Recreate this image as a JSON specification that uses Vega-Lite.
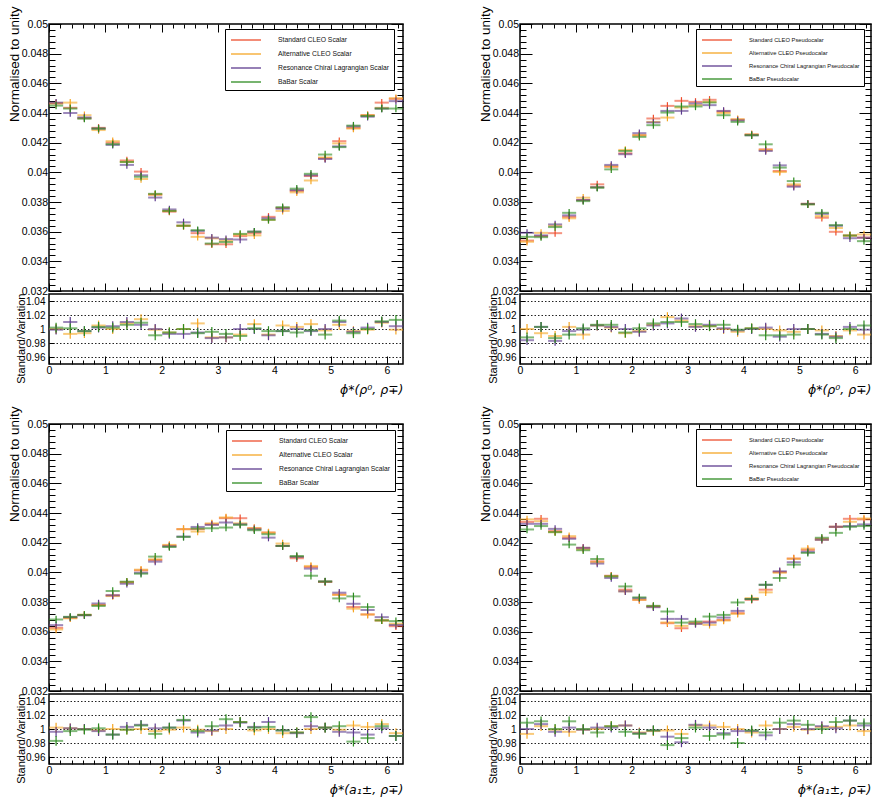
{
"$schema": "https://vega.github.io/schema/vega-lite/v6.json",
"padding": {"left": 6, "top": 5, "right": 0, "bottom": 0},
"background": "white",
"bounds": "flush",
"columns": 2,
"spacing": {"row": 3, "column": 117},
"resolve": {"scale": {"color": "independent"}},
"config": {
 "view": {"stroke": "#000", "strokeWidth": 1.5},
 "axis": {"domain": false, "grid": false, "labelFont": "Liberation Sans", "labelColor": "#000", "tickColor": "#000", "tickWidth": 1, "titleFont": "Liberation Sans", "titleFontWeight": "normal", "titleColor": "#000", "labelFlush": false, "labelOverlap": false},
 "legend": {"labelFont": "Liberation Sans", "labelColor": "#111"}
},
"datasets": {
"bins": [
{"b":0,"x0":0,"xc":0.1257,"x1":0.2513},{"b":1,"x0":0.2513,"xc":0.377,"x1":0.5027},{"b":2,"x0":0.5027,"xc":0.6283,"x1":0.754},{"b":3,"x0":0.754,"xc":0.8796,"x1":1.0053},{"b":4,"x0":1.0053,"xc":1.131,"x1":1.2566},{"b":5,"x0":1.2566,"xc":1.3823,"x1":1.508},{"b":6,"x0":1.508,"xc":1.6336,"x1":1.7593},{"b":7,"x0":1.7593,"xc":1.885,"x1":2.0106},{"b":8,"x0":2.0106,"xc":2.1363,"x1":2.2619},{"b":9,"x0":2.2619,"xc":2.3876,"x1":2.5133},{"b":10,"x0":2.5133,"xc":2.6389,"x1":2.7646},{"b":11,"x0":2.7646,"xc":2.8903,"x1":3.0159},{"b":12,"x0":3.0159,"xc":3.1416,"x1":3.2673},{"b":13,"x0":3.2673,"xc":3.3929,"x1":3.5186},{"b":14,"x0":3.5186,"xc":3.6442,"x1":3.7699},{"b":15,"x0":3.7699,"xc":3.8956,"x1":4.0212},{"b":16,"x0":4.0212,"xc":4.1469,"x1":4.2726},{"b":17,"x0":4.2726,"xc":4.3982,"x1":4.5239},{"b":18,"x0":4.5239,"xc":4.6496,"x1":4.7752},{"b":19,"x0":4.7752,"xc":4.9009,"x1":5.0265},{"b":20,"x0":5.0265,"xc":5.1522,"x1":5.2779},{"b":21,"x0":5.2779,"xc":5.4035,"x1":5.5292},{"b":22,"x0":5.5292,"xc":5.6549,"x1":5.7805},{"b":23,"x0":5.7805,"xc":5.9062,"x1":6.0319},{"b":24,"x0":6.0319,"xc":6.1575,"x1":6.2832}
],
"main": [
{"p":1,"s":"R","b":0,"y":0.04465,"e":0.00025},{"p":1,"s":"O","b":0,"y":0.04465,"e":0.00025},{"p":1,"s":"P","b":0,"y":0.0447,"e":0.00025},{"p":1,"s":"G","b":0,"y":0.0445,"e":0.00025},
{"p":1,"s":"R","b":1,"y":0.04435,"e":0.00025},{"p":1,"s":"O","b":1,"y":0.0447,"e":0.00025},{"p":1,"s":"P","b":1,"y":0.044,"e":0.00025},{"p":1,"s":"G","b":1,"y":0.0443,"e":0.00025},
{"p":1,"s":"R","b":2,"y":0.04365,"e":0.00025},{"p":1,"s":"O","b":2,"y":0.04385,"e":0.00025},{"p":1,"s":"P","b":2,"y":0.0437,"e":0.00025},{"p":1,"s":"G","b":2,"y":0.04362,"e":0.00025},
{"p":1,"s":"R","b":3,"y":0.043,"e":0.00025},{"p":1,"s":"O","b":3,"y":0.04285,"e":0.00025},{"p":1,"s":"P","b":3,"y":0.04295,"e":0.00025},{"p":1,"s":"G","b":3,"y":0.04295,"e":0.00025},
{"p":1,"s":"R","b":4,"y":0.042,"e":0.00025},{"p":1,"s":"O","b":4,"y":0.0421,"e":0.00025},{"p":1,"s":"P","b":4,"y":0.04185,"e":0.00025},{"p":1,"s":"G","b":4,"y":0.0419,"e":0.00025},
{"p":1,"s":"R","b":5,"y":0.0408,"e":0.00025},{"p":1,"s":"O","b":5,"y":0.0407,"e":0.00025},{"p":1,"s":"P","b":5,"y":0.0405,"e":0.00025},{"p":1,"s":"G","b":5,"y":0.0407,"e":0.00025},
{"p":1,"s":"R","b":6,"y":0.04005,"e":0.00025},{"p":1,"s":"O","b":6,"y":0.03955,"e":0.00025},{"p":1,"s":"P","b":6,"y":0.0398,"e":0.00025},{"p":1,"s":"G","b":6,"y":0.0397,"e":0.00025},
{"p":1,"s":"R","b":7,"y":0.0385,"e":0.00025},{"p":1,"s":"O","b":7,"y":0.0385,"e":0.00025},{"p":1,"s":"P","b":7,"y":0.0383,"e":0.00025},{"p":1,"s":"G","b":7,"y":0.03855,"e":0.00025},
{"p":1,"s":"R","b":8,"y":0.03735,"e":0.00025},{"p":1,"s":"O","b":8,"y":0.0374,"e":0.00025},{"p":1,"s":"P","b":8,"y":0.0375,"e":0.00025},{"p":1,"s":"G","b":8,"y":0.0374,"e":0.00025},
{"p":1,"s":"R","b":9,"y":0.0364,"e":0.00025},{"p":1,"s":"O","b":9,"y":0.0364,"e":0.00025},{"p":1,"s":"P","b":9,"y":0.03663,"e":0.00025},{"p":1,"s":"G","b":9,"y":0.0364,"e":0.00025},
{"p":1,"s":"R","b":10,"y":0.0359,"e":0.00025},{"p":1,"s":"O","b":10,"y":0.03565,"e":0.00025},{"p":1,"s":"P","b":10,"y":0.03605,"e":0.00025},{"p":1,"s":"G","b":10,"y":0.0361,"e":0.00025},
{"p":1,"s":"R","b":11,"y":0.03515,"e":0.00025},{"p":1,"s":"O","b":11,"y":0.03555,"e":0.00025},{"p":1,"s":"P","b":11,"y":0.0356,"e":0.00025},{"p":1,"s":"G","b":11,"y":0.0352,"e":0.00025},
{"p":1,"s":"R","b":12,"y":0.03515,"e":0.00025},{"p":1,"s":"O","b":12,"y":0.0354,"e":0.00025},{"p":1,"s":"P","b":12,"y":0.0355,"e":0.00025},{"p":1,"s":"G","b":12,"y":0.0353,"e":0.00025},
{"p":1,"s":"R","b":13,"y":0.0357,"e":0.00025},{"p":1,"s":"O","b":13,"y":0.0358,"e":0.00025},{"p":1,"s":"P","b":13,"y":0.03547,"e":0.00025},{"p":1,"s":"G","b":13,"y":0.03585,"e":0.00025},
{"p":1,"s":"R","b":14,"y":0.0359,"e":0.00025},{"p":1,"s":"O","b":14,"y":0.03575,"e":0.00025},{"p":1,"s":"P","b":14,"y":0.036,"e":0.00025},{"p":1,"s":"G","b":14,"y":0.036,"e":0.00025},
{"p":1,"s":"R","b":15,"y":0.037,"e":0.00025},{"p":1,"s":"O","b":15,"y":0.0368,"e":0.00025},{"p":1,"s":"P","b":15,"y":0.0369,"e":0.00025},{"p":1,"s":"G","b":15,"y":0.0368,"e":0.00025},
{"p":1,"s":"R","b":16,"y":0.0376,"e":0.00025},{"p":1,"s":"O","b":16,"y":0.0374,"e":0.00025},{"p":1,"s":"P","b":16,"y":0.03755,"e":0.00025},{"p":1,"s":"G","b":16,"y":0.03765,"e":0.00025},
{"p":1,"s":"R","b":17,"y":0.03875,"e":0.00025},{"p":1,"s":"O","b":17,"y":0.03865,"e":0.00025},{"p":1,"s":"P","b":17,"y":0.0388,"e":0.00025},{"p":1,"s":"G","b":17,"y":0.0389,"e":0.00025},
{"p":1,"s":"R","b":18,"y":0.03975,"e":0.00025},{"p":1,"s":"O","b":18,"y":0.03945,"e":0.00025},{"p":1,"s":"P","b":18,"y":0.0398,"e":0.00025},{"p":1,"s":"G","b":18,"y":0.0399,"e":0.00025},
{"p":1,"s":"R","b":19,"y":0.04095,"e":0.00025},{"p":1,"s":"O","b":19,"y":0.041,"e":0.00025},{"p":1,"s":"P","b":19,"y":0.0409,"e":0.00025},{"p":1,"s":"G","b":19,"y":0.0412,"e":0.00025},
{"p":1,"s":"R","b":20,"y":0.0421,"e":0.00025},{"p":1,"s":"O","b":20,"y":0.04195,"e":0.00025},{"p":1,"s":"P","b":20,"y":0.04175,"e":0.00025},{"p":1,"s":"G","b":20,"y":0.0417,"e":0.00025},
{"p":1,"s":"R","b":21,"y":0.043,"e":0.00025},{"p":1,"s":"O","b":21,"y":0.04295,"e":0.00025},{"p":1,"s":"P","b":21,"y":0.0431,"e":0.00025},{"p":1,"s":"G","b":21,"y":0.04315,"e":0.00025},
{"p":1,"s":"R","b":22,"y":0.04385,"e":0.00025},{"p":1,"s":"O","b":22,"y":0.04385,"e":0.00025},{"p":1,"s":"P","b":22,"y":0.04375,"e":0.00025},{"p":1,"s":"G","b":22,"y":0.0438,"e":0.00025},
{"p":1,"s":"R","b":23,"y":0.0447,"e":0.00025},{"p":1,"s":"O","b":23,"y":0.04435,"e":0.00025},{"p":1,"s":"P","b":23,"y":0.0443,"e":0.00025},{"p":1,"s":"G","b":23,"y":0.0443,"e":0.00025},
{"p":1,"s":"R","b":24,"y":0.04495,"e":0.00025},{"p":1,"s":"O","b":24,"y":0.045,"e":0.00025},{"p":1,"s":"P","b":24,"y":0.0448,"e":0.00025},{"p":1,"s":"G","b":24,"y":0.0443,"e":0.00025},

{"p":2,"s":"R","b":0,"y":0.0354,"e":0.00025},{"p":2,"s":"O","b":0,"y":0.03532,"e":0.00025},{"p":2,"s":"P","b":0,"y":0.03592,"e":0.00025},{"p":2,"s":"G","b":0,"y":0.03565,"e":0.00025},
{"p":2,"s":"R","b":1,"y":0.0357,"e":0.00025},{"p":2,"s":"O","b":1,"y":0.03592,"e":0.00025},{"p":2,"s":"P","b":1,"y":0.03575,"e":0.00025},{"p":2,"s":"G","b":1,"y":0.03563,"e":0.00025},
{"p":2,"s":"R","b":2,"y":0.0359,"e":0.00025},{"p":2,"s":"O","b":2,"y":0.0364,"e":0.00025},{"p":2,"s":"P","b":2,"y":0.03649,"e":0.00025},{"p":2,"s":"G","b":2,"y":0.03631,"e":0.00025},
{"p":2,"s":"R","b":3,"y":0.037,"e":0.00025},{"p":2,"s":"O","b":3,"y":0.0369,"e":0.00025},{"p":2,"s":"P","b":3,"y":0.0371,"e":0.00025},{"p":2,"s":"G","b":3,"y":0.03727,"e":0.00025},
{"p":2,"s":"R","b":4,"y":0.03813,"e":0.00025},{"p":2,"s":"O","b":4,"y":0.03829,"e":0.00025},{"p":2,"s":"P","b":4,"y":0.03813,"e":0.00025},{"p":2,"s":"G","b":4,"y":0.03806,"e":0.00025},
{"p":2,"s":"R","b":5,"y":0.03919,"e":0.00025},{"p":2,"s":"O","b":5,"y":0.039,"e":0.00025},{"p":2,"s":"P","b":5,"y":0.039,"e":0.00025},{"p":2,"s":"G","b":5,"y":0.03896,"e":0.00025},
{"p":2,"s":"R","b":6,"y":0.04038,"e":0.00025},{"p":2,"s":"O","b":6,"y":0.0404,"e":0.00025},{"p":2,"s":"P","b":6,"y":0.0405,"e":0.00025},{"p":2,"s":"G","b":6,"y":0.0402,"e":0.00025},
{"p":2,"s":"R","b":7,"y":0.04128,"e":0.00025},{"p":2,"s":"O","b":7,"y":0.04151,"e":0.00025},{"p":2,"s":"P","b":7,"y":0.04122,"e":0.00025},{"p":2,"s":"G","b":7,"y":0.04144,"e":0.00025},
{"p":2,"s":"R","b":8,"y":0.0425,"e":0.00025},{"p":2,"s":"O","b":8,"y":0.0425,"e":0.00025},{"p":2,"s":"P","b":8,"y":0.04264,"e":0.00025},{"p":2,"s":"G","b":8,"y":0.04239,"e":0.00025},
{"p":2,"s":"R","b":9,"y":0.04363,"e":0.00025},{"p":2,"s":"O","b":9,"y":0.0434,"e":0.00025},{"p":2,"s":"P","b":9,"y":0.04336,"e":0.00025},{"p":2,"s":"G","b":9,"y":0.04318,"e":0.00025},
{"p":2,"s":"R","b":10,"y":0.04448,"e":0.00025},{"p":2,"s":"O","b":10,"y":0.04369,"e":0.00025},{"p":2,"s":"P","b":10,"y":0.04414,"e":0.00025},{"p":2,"s":"G","b":10,"y":0.04403,"e":0.00025},
{"p":2,"s":"R","b":11,"y":0.04482,"e":0.00025},{"p":2,"s":"O","b":11,"y":0.04437,"e":0.00025},{"p":2,"s":"P","b":11,"y":0.04414,"e":0.00025},{"p":2,"s":"G","b":11,"y":0.04444,"e":0.00025},
{"p":2,"s":"R","b":12,"y":0.04475,"e":0.00025},{"p":2,"s":"O","b":12,"y":0.04453,"e":0.00025},{"p":2,"s":"P","b":12,"y":0.04464,"e":0.00025},{"p":2,"s":"G","b":12,"y":0.04444,"e":0.00025},
{"p":2,"s":"R","b":13,"y":0.04489,"e":0.00025},{"p":2,"s":"O","b":13,"y":0.04475,"e":0.00025},{"p":2,"s":"P","b":13,"y":0.04453,"e":0.00025},{"p":2,"s":"G","b":13,"y":0.04471,"e":0.00025},
{"p":2,"s":"R","b":14,"y":0.0441,"e":0.00025},{"p":2,"s":"O","b":14,"y":0.044,"e":0.00025},{"p":2,"s":"P","b":14,"y":0.04414,"e":0.00025},{"p":2,"s":"G","b":14,"y":0.04385,"e":0.00025},
{"p":2,"s":"R","b":15,"y":0.04355,"e":0.00025},{"p":2,"s":"O","b":15,"y":0.04358,"e":0.00025},{"p":2,"s":"P","b":15,"y":0.0435,"e":0.00025},{"p":2,"s":"G","b":15,"y":0.0434,"e":0.00025},
{"p":2,"s":"R","b":16,"y":0.04255,"e":0.00025},{"p":2,"s":"O","b":16,"y":0.04255,"e":0.00025},{"p":2,"s":"P","b":16,"y":0.0425,"e":0.00025},{"p":2,"s":"G","b":16,"y":0.0425,"e":0.00025},
{"p":2,"s":"R","b":17,"y":0.04155,"e":0.00025},{"p":2,"s":"O","b":17,"y":0.0415,"e":0.00025},{"p":2,"s":"P","b":17,"y":0.04144,"e":0.00025},{"p":2,"s":"G","b":17,"y":0.04189,"e":0.00025},
{"p":2,"s":"R","b":18,"y":0.04009,"e":0.00025},{"p":2,"s":"O","b":18,"y":0.04002,"e":0.00025},{"p":2,"s":"P","b":18,"y":0.04047,"e":0.00025},{"p":2,"s":"G","b":18,"y":0.04032,"e":0.00025},
{"p":2,"s":"R","b":19,"y":0.0391,"e":0.00025},{"p":2,"s":"O","b":19,"y":0.03919,"e":0.00025},{"p":2,"s":"P","b":19,"y":0.03903,"e":0.00025},{"p":2,"s":"G","b":19,"y":0.03941,"e":0.00025},
{"p":2,"s":"R","b":20,"y":0.03788,"e":0.00025},{"p":2,"s":"O","b":20,"y":0.03785,"e":0.00025},{"p":2,"s":"P","b":20,"y":0.03787,"e":0.00025},{"p":2,"s":"G","b":20,"y":0.03784,"e":0.00025},
{"p":2,"s":"R","b":21,"y":0.03694,"e":0.00025},{"p":2,"s":"O","b":21,"y":0.03705,"e":0.00025},{"p":2,"s":"P","b":21,"y":0.0372,"e":0.00025},{"p":2,"s":"G","b":21,"y":0.03727,"e":0.00025},
{"p":2,"s":"R","b":22,"y":0.03599,"e":0.00025},{"p":2,"s":"O","b":22,"y":0.03625,"e":0.00025},{"p":2,"s":"P","b":22,"y":0.0364,"e":0.00025},{"p":2,"s":"G","b":22,"y":0.03644,"e":0.00025},
{"p":2,"s":"R","b":23,"y":0.03574,"e":0.00025},{"p":2,"s":"O","b":23,"y":0.03574,"e":0.00025},{"p":2,"s":"P","b":23,"y":0.03556,"e":0.00025},{"p":2,"s":"G","b":23,"y":0.03574,"e":0.00025},
{"p":2,"s":"R","b":24,"y":0.0356,"e":0.00025},{"p":2,"s":"O","b":24,"y":0.03581,"e":0.00025},{"p":2,"s":"P","b":24,"y":0.03559,"e":0.00025},{"p":2,"s":"G","b":24,"y":0.03536,"e":0.00025},

{"p":3,"s":"R","b":0,"y":0.03626,"e":0.00025},{"p":3,"s":"O","b":0,"y":0.03615,"e":0.00025},{"p":3,"s":"P","b":0,"y":0.03644,"e":0.00025},{"p":3,"s":"G","b":0,"y":0.03682,"e":0.00025},
{"p":3,"s":"R","b":1,"y":0.03694,"e":0.00025},{"p":3,"s":"O","b":1,"y":0.0369,"e":0.00025},{"p":3,"s":"P","b":1,"y":0.03698,"e":0.00025},{"p":3,"s":"G","b":1,"y":0.037,"e":0.00025},
{"p":3,"s":"R","b":2,"y":0.03712,"e":0.00025},{"p":3,"s":"O","b":2,"y":0.03714,"e":0.00025},{"p":3,"s":"P","b":2,"y":0.0371,"e":0.00025},{"p":3,"s":"G","b":2,"y":0.03713,"e":0.00025},
{"p":3,"s":"R","b":3,"y":0.0378,"e":0.00025},{"p":3,"s":"O","b":3,"y":0.0378,"e":0.00025},{"p":3,"s":"P","b":3,"y":0.0379,"e":0.00025},{"p":3,"s":"G","b":3,"y":0.03773,"e":0.00025},
{"p":3,"s":"R","b":4,"y":0.03845,"e":0.00025},{"p":3,"s":"O","b":4,"y":0.0384,"e":0.00025},{"p":3,"s":"P","b":4,"y":0.03845,"e":0.00025},{"p":3,"s":"G","b":4,"y":0.03874,"e":0.00025},
{"p":3,"s":"R","b":5,"y":0.03933,"e":0.00025},{"p":3,"s":"O","b":5,"y":0.03933,"e":0.00025},{"p":3,"s":"P","b":5,"y":0.03923,"e":0.00025},{"p":3,"s":"G","b":5,"y":0.03937,"e":0.00025},
{"p":3,"s":"R","b":6,"y":0.04013,"e":0.00025},{"p":3,"s":"O","b":6,"y":0.04018,"e":0.00025},{"p":3,"s":"P","b":6,"y":0.03997,"e":0.00025},{"p":3,"s":"G","b":6,"y":0.03991,"e":0.00025},
{"p":3,"s":"R","b":7,"y":0.04083,"e":0.00025},{"p":3,"s":"O","b":7,"y":0.04088,"e":0.00025},{"p":3,"s":"P","b":7,"y":0.04072,"e":0.00025},{"p":3,"s":"G","b":7,"y":0.04106,"e":0.00025},
{"p":3,"s":"R","b":8,"y":0.0418,"e":0.00025},{"p":3,"s":"O","b":8,"y":0.04185,"e":0.00025},{"p":3,"s":"P","b":8,"y":0.04175,"e":0.00025},{"p":3,"s":"G","b":8,"y":0.04171,"e":0.00025},
{"p":3,"s":"R","b":9,"y":0.04291,"e":0.00025},{"p":3,"s":"O","b":9,"y":0.04291,"e":0.00025},{"p":3,"s":"P","b":9,"y":0.04241,"e":0.00025},{"p":3,"s":"G","b":9,"y":0.04239,"e":0.00025},
{"p":3,"s":"R","b":10,"y":0.04291,"e":0.00025},{"p":3,"s":"O","b":10,"y":0.04275,"e":0.00025},{"p":3,"s":"P","b":10,"y":0.04306,"e":0.00025},{"p":3,"s":"G","b":10,"y":0.04295,"e":0.00025},
{"p":3,"s":"R","b":11,"y":0.04324,"e":0.00025},{"p":3,"s":"O","b":11,"y":0.0433,"e":0.00025},{"p":3,"s":"P","b":11,"y":0.0432,"e":0.00025},{"p":3,"s":"G","b":11,"y":0.04297,"e":0.00025},
{"p":3,"s":"R","b":12,"y":0.04365,"e":0.00025},{"p":3,"s":"O","b":12,"y":0.0437,"e":0.00025},{"p":3,"s":"P","b":12,"y":0.04336,"e":0.00025},{"p":3,"s":"G","b":12,"y":0.04302,"e":0.00025},
{"p":3,"s":"R","b":13,"y":0.04365,"e":0.00025},{"p":3,"s":"O","b":13,"y":0.0433,"e":0.00025},{"p":3,"s":"P","b":13,"y":0.04324,"e":0.00025},{"p":3,"s":"G","b":13,"y":0.0432,"e":0.00025},
{"p":3,"s":"R","b":14,"y":0.04297,"e":0.00025},{"p":3,"s":"O","b":14,"y":0.04297,"e":0.00025},{"p":3,"s":"P","b":14,"y":0.0429,"e":0.00025},{"p":3,"s":"G","b":14,"y":0.04284,"e":0.00025},
{"p":3,"s":"R","b":15,"y":0.04268,"e":0.00025},{"p":3,"s":"O","b":15,"y":0.04268,"e":0.00025},{"p":3,"s":"P","b":15,"y":0.04234,"e":0.00025},{"p":3,"s":"G","b":15,"y":0.04257,"e":0.00025},
{"p":3,"s":"R","b":16,"y":0.04178,"e":0.00025},{"p":3,"s":"O","b":16,"y":0.04194,"e":0.00025},{"p":3,"s":"P","b":16,"y":0.04178,"e":0.00025},{"p":3,"s":"G","b":16,"y":0.04178,"e":0.00025},
{"p":3,"s":"R","b":17,"y":0.04095,"e":0.00025},{"p":3,"s":"O","b":17,"y":0.04104,"e":0.00025},{"p":3,"s":"P","b":17,"y":0.04104,"e":0.00025},{"p":3,"s":"G","b":17,"y":0.0411,"e":0.00025},
{"p":3,"s":"R","b":18,"y":0.04036,"e":0.00025},{"p":3,"s":"O","b":18,"y":0.04043,"e":0.00025},{"p":3,"s":"P","b":18,"y":0.04025,"e":0.00025},{"p":3,"s":"G","b":18,"y":0.03977,"e":0.00025},
{"p":3,"s":"R","b":19,"y":0.03937,"e":0.00025},{"p":3,"s":"O","b":19,"y":0.03935,"e":0.00025},{"p":3,"s":"P","b":19,"y":0.03937,"e":0.00025},{"p":3,"s":"G","b":19,"y":0.03939,"e":0.00025},
{"p":3,"s":"R","b":20,"y":0.03851,"e":0.00025},{"p":3,"s":"O","b":20,"y":0.03847,"e":0.00025},{"p":3,"s":"P","b":20,"y":0.03863,"e":0.00025},{"p":3,"s":"G","b":20,"y":0.03824,"e":0.00025},
{"p":3,"s":"R","b":21,"y":0.03766,"e":0.00025},{"p":3,"s":"O","b":21,"y":0.03755,"e":0.00025},{"p":3,"s":"P","b":21,"y":0.03788,"e":0.00025},{"p":3,"s":"G","b":21,"y":0.03838,"e":0.00025},
{"p":3,"s":"R","b":22,"y":0.03716,"e":0.00025},{"p":3,"s":"O","b":22,"y":0.03716,"e":0.00025},{"p":3,"s":"P","b":22,"y":0.03746,"e":0.00025},{"p":3,"s":"G","b":22,"y":0.03766,"e":0.00025},
{"p":3,"s":"R","b":23,"y":0.03676,"e":0.00025},{"p":3,"s":"O","b":23,"y":0.03676,"e":0.00025},{"p":3,"s":"P","b":23,"y":0.03698,"e":0.00025},{"p":3,"s":"G","b":23,"y":0.03676,"e":0.00025},
{"p":3,"s":"R","b":24,"y":0.03637,"e":0.00025},{"p":3,"s":"O","b":24,"y":0.03653,"e":0.00025},{"p":3,"s":"P","b":24,"y":0.03645,"e":0.00025},{"p":3,"s":"G","b":24,"y":0.03671,"e":0.00025},

{"p":4,"s":"R","b":0,"y":0.0434,"e":0.00025},{"p":4,"s":"O","b":0,"y":0.04357,"e":0.00025},{"p":4,"s":"P","b":0,"y":0.04327,"e":0.00025},{"p":4,"s":"G","b":0,"y":0.04289,"e":0.00025},
{"p":4,"s":"R","b":1,"y":0.04361,"e":0.00025},{"p":4,"s":"O","b":1,"y":0.04345,"e":0.00025},{"p":4,"s":"P","b":1,"y":0.04327,"e":0.00025},{"p":4,"s":"G","b":1,"y":0.04312,"e":0.00025},
{"p":4,"s":"R","b":2,"y":0.04278,"e":0.00025},{"p":4,"s":"O","b":2,"y":0.04271,"e":0.00025},{"p":4,"s":"P","b":2,"y":0.04293,"e":0.00025},{"p":4,"s":"G","b":2,"y":0.04271,"e":0.00025},
{"p":4,"s":"R","b":3,"y":0.04233,"e":0.00025},{"p":4,"s":"O","b":3,"y":0.04244,"e":0.00025},{"p":4,"s":"P","b":3,"y":0.04226,"e":0.00025},{"p":4,"s":"G","b":3,"y":0.04187,"e":0.00025},
{"p":4,"s":"R","b":4,"y":0.04165,"e":0.00025},{"p":4,"s":"O","b":4,"y":0.04155,"e":0.00025},{"p":4,"s":"P","b":4,"y":0.04165,"e":0.00025},{"p":4,"s":"G","b":4,"y":0.04149,"e":0.00025},
{"p":4,"s":"R","b":5,"y":0.04074,"e":0.00025},{"p":4,"s":"O","b":5,"y":0.04068,"e":0.00025},{"p":4,"s":"P","b":5,"y":0.04059,"e":0.00025},{"p":4,"s":"G","b":5,"y":0.0409,"e":0.00025},
{"p":4,"s":"R","b":6,"y":0.03977,"e":0.00025},{"p":4,"s":"O","b":6,"y":0.03973,"e":0.00025},{"p":4,"s":"P","b":6,"y":0.03962,"e":0.00025},{"p":4,"s":"G","b":6,"y":0.03973,"e":0.00025},
{"p":4,"s":"R","b":7,"y":0.03883,"e":0.00025},{"p":4,"s":"O","b":7,"y":0.03872,"e":0.00025},{"p":4,"s":"P","b":7,"y":0.03872,"e":0.00025},{"p":4,"s":"G","b":7,"y":0.03905,"e":0.00025},
{"p":4,"s":"R","b":8,"y":0.03815,"e":0.00025},{"p":4,"s":"O","b":8,"y":0.03815,"e":0.00025},{"p":4,"s":"P","b":8,"y":0.03826,"e":0.00025},{"p":4,"s":"G","b":8,"y":0.03831,"e":0.00025},
{"p":4,"s":"R","b":9,"y":0.0377,"e":0.00025},{"p":4,"s":"O","b":9,"y":0.0377,"e":0.00025},{"p":4,"s":"P","b":9,"y":0.03765,"e":0.00025},{"p":4,"s":"G","b":9,"y":0.03774,"e":0.00025},
{"p":4,"s":"R","b":10,"y":0.03657,"e":0.00025},{"p":4,"s":"O","b":10,"y":0.03662,"e":0.00025},{"p":4,"s":"P","b":10,"y":0.03686,"e":0.00025},{"p":4,"s":"G","b":10,"y":0.03736,"e":0.00025},
{"p":4,"s":"R","b":11,"y":0.03623,"e":0.00025},{"p":4,"s":"O","b":11,"y":0.03639,"e":0.00025},{"p":4,"s":"P","b":11,"y":0.03686,"e":0.00025},{"p":4,"s":"G","b":11,"y":0.03661,"e":0.00025},
{"p":4,"s":"R","b":12,"y":0.0366,"e":0.00025},{"p":4,"s":"O","b":12,"y":0.03655,"e":0.00025},{"p":4,"s":"P","b":12,"y":0.03652,"e":0.00025},{"p":4,"s":"G","b":12,"y":0.03668,"e":0.00025},
{"p":4,"s":"R","b":13,"y":0.03668,"e":0.00025},{"p":4,"s":"O","b":13,"y":0.03646,"e":0.00025},{"p":4,"s":"P","b":13,"y":0.03661,"e":0.00025},{"p":4,"s":"G","b":13,"y":0.03702,"e":0.00025},
{"p":4,"s":"R","b":14,"y":0.03679,"e":0.00025},{"p":4,"s":"O","b":14,"y":0.03675,"e":0.00025},{"p":4,"s":"P","b":14,"y":0.03695,"e":0.00025},{"p":4,"s":"G","b":14,"y":0.03713,"e":0.00025},
{"p":4,"s":"R","b":15,"y":0.03725,"e":0.00025},{"p":4,"s":"O","b":15,"y":0.0372,"e":0.00025},{"p":4,"s":"P","b":15,"y":0.0374,"e":0.00025},{"p":4,"s":"G","b":15,"y":0.03797,"e":0.00025},
{"p":4,"s":"R","b":16,"y":0.03815,"e":0.00025},{"p":4,"s":"O","b":16,"y":0.03826,"e":0.00025},{"p":4,"s":"P","b":16,"y":0.0382,"e":0.00025},{"p":4,"s":"G","b":16,"y":0.0382,"e":0.00025},
{"p":4,"s":"R","b":17,"y":0.03883,"e":0.00025},{"p":4,"s":"O","b":17,"y":0.03865,"e":0.00025},{"p":4,"s":"P","b":17,"y":0.03916,"e":0.00025},{"p":4,"s":"G","b":17,"y":0.03916,"e":0.00025},
{"p":4,"s":"R","b":18,"y":0.04002,"e":0.00025},{"p":4,"s":"O","b":18,"y":0.03997,"e":0.00025},{"p":4,"s":"P","b":18,"y":0.04007,"e":0.00025},{"p":4,"s":"G","b":18,"y":0.03962,"e":0.00025},
{"p":4,"s":"R","b":19,"y":0.04093,"e":0.00025},{"p":4,"s":"O","b":19,"y":0.04091,"e":0.00025},{"p":4,"s":"P","b":19,"y":0.04068,"e":0.00025},{"p":4,"s":"G","b":19,"y":0.04052,"e":0.00025},
{"p":4,"s":"R","b":20,"y":0.04151,"e":0.00025},{"p":4,"s":"O","b":20,"y":0.0416,"e":0.00025},{"p":4,"s":"P","b":20,"y":0.04138,"e":0.00025},{"p":4,"s":"G","b":20,"y":0.04131,"e":0.00025},
{"p":4,"s":"R","b":21,"y":0.04226,"e":0.00025},{"p":4,"s":"O","b":21,"y":0.04219,"e":0.00025},{"p":4,"s":"P","b":21,"y":0.04219,"e":0.00025},{"p":4,"s":"G","b":21,"y":0.04233,"e":0.00025},
{"p":4,"s":"R","b":22,"y":0.04307,"e":0.00025},{"p":4,"s":"O","b":22,"y":0.04307,"e":0.00025},{"p":4,"s":"P","b":22,"y":0.04307,"e":0.00025},{"p":4,"s":"G","b":22,"y":0.04266,"e":0.00025},
{"p":4,"s":"R","b":23,"y":0.04361,"e":0.00025},{"p":4,"s":"O","b":23,"y":0.04341,"e":0.00025},{"p":4,"s":"P","b":23,"y":0.04312,"e":0.00025},{"p":4,"s":"G","b":23,"y":0.04307,"e":0.00025},
{"p":4,"s":"R","b":24,"y":0.04357,"e":0.00025},{"p":4,"s":"O","b":24,"y":0.04363,"e":0.00025},{"p":4,"s":"P","b":24,"y":0.04323,"e":0.00025},{"p":4,"s":"G","b":24,"y":0.04312,"e":0.00025}
],
"ratio": [
{"p":1,"s":"O","b":0,"y":1.0,"e":0.007},{"p":1,"s":"P","b":0,"y":0.999,"e":0.007},{"p":1,"s":"G","b":0,"y":1.002,"e":0.007},
{"p":1,"s":"O","b":1,"y":0.993,"e":0.007},{"p":1,"s":"P","b":1,"y":1.01,"e":0.007},{"p":1,"s":"G","b":1,"y":1.001,"e":0.007},
{"p":1,"s":"O","b":2,"y":0.994,"e":0.007},{"p":1,"s":"P","b":2,"y":0.997,"e":0.007},{"p":1,"s":"G","b":2,"y":0.997,"e":0.007},
{"p":1,"s":"O","b":3,"y":1.005,"e":0.007},{"p":1,"s":"P","b":3,"y":1.002,"e":0.007},{"p":1,"s":"G","b":3,"y":1.003,"e":0.007},
{"p":1,"s":"O","b":4,"y":1.0,"e":0.007},{"p":1,"s":"P","b":4,"y":1.004,"e":0.007},{"p":1,"s":"G","b":4,"y":1.002,"e":0.007},
{"p":1,"s":"O","b":5,"y":1.008,"e":0.007},{"p":1,"s":"P","b":5,"y":1.01,"e":0.007},{"p":1,"s":"G","b":5,"y":1.006,"e":0.007},
{"p":1,"s":"O","b":6,"y":1.014,"e":0.007},{"p":1,"s":"P","b":6,"y":1.006,"e":0.007},{"p":1,"s":"G","b":6,"y":1.009,"e":0.007},
{"p":1,"s":"O","b":7,"y":0.999,"e":0.007},{"p":1,"s":"P","b":7,"y":1.0,"e":0.007},{"p":1,"s":"G","b":7,"y":0.991,"e":0.007},
{"p":1,"s":"O","b":8,"y":0.995,"e":0.007},{"p":1,"s":"P","b":8,"y":0.993,"e":0.007},{"p":1,"s":"G","b":8,"y":0.995,"e":0.007},
{"p":1,"s":"O","b":9,"y":1.0,"e":0.007},{"p":1,"s":"P","b":9,"y":0.993,"e":0.007},{"p":1,"s":"G","b":9,"y":1.0,"e":0.007},
{"p":1,"s":"O","b":10,"y":1.008,"e":0.007},{"p":1,"s":"P","b":10,"y":0.995,"e":0.007},{"p":1,"s":"G","b":10,"y":0.994,"e":0.007},
{"p":1,"s":"O","b":11,"y":0.988,"e":0.007},{"p":1,"s":"P","b":11,"y":0.987,"e":0.007},{"p":1,"s":"G","b":11,"y":0.996,"e":0.007},
{"p":1,"s":"O","b":12,"y":0.988,"e":0.007},{"p":1,"s":"P","b":12,"y":0.988,"e":0.007},{"p":1,"s":"G","b":12,"y":0.993,"e":0.007},
{"p":1,"s":"O","b":13,"y":0.992,"e":0.007},{"p":1,"s":"P","b":13,"y":1.0,"e":0.007},{"p":1,"s":"G","b":13,"y":0.99,"e":0.007},
{"p":1,"s":"O","b":14,"y":1.007,"e":0.007},{"p":1,"s":"P","b":14,"y":1.0,"e":0.007},{"p":1,"s":"G","b":14,"y":1.001,"e":0.007},
{"p":1,"s":"O","b":15,"y":0.992,"e":0.007},{"p":1,"s":"P","b":15,"y":0.991,"e":0.007},{"p":1,"s":"G","b":15,"y":0.997,"e":0.007},
{"p":1,"s":"O","b":16,"y":1.005,"e":0.007},{"p":1,"s":"P","b":16,"y":0.997,"e":0.007},{"p":1,"s":"G","b":16,"y":0.997,"e":0.007},
{"p":1,"s":"O","b":17,"y":1.003,"e":0.007},{"p":1,"s":"P","b":17,"y":1.0,"e":0.007},{"p":1,"s":"G","b":17,"y":0.995,"e":0.007},
{"p":1,"s":"O","b":18,"y":1.007,"e":0.007},{"p":1,"s":"P","b":18,"y":0.997,"e":0.007},{"p":1,"s":"G","b":18,"y":0.998,"e":0.007},
{"p":1,"s":"O","b":19,"y":0.998,"e":0.007},{"p":1,"s":"P","b":19,"y":1.0,"e":0.007},{"p":1,"s":"G","b":19,"y":0.992,"e":0.007},
{"p":1,"s":"O","b":20,"y":1.006,"e":0.007},{"p":1,"s":"P","b":20,"y":1.01,"e":0.007},{"p":1,"s":"G","b":20,"y":1.012,"e":0.007},
{"p":1,"s":"O","b":21,"y":0.997,"e":0.007},{"p":1,"s":"P","b":21,"y":0.996,"e":0.007},{"p":1,"s":"G","b":21,"y":0.994,"e":0.007},
{"p":1,"s":"O","b":22,"y":0.999,"e":0.007},{"p":1,"s":"P","b":22,"y":1.002,"e":0.007},{"p":1,"s":"G","b":22,"y":1.0,"e":0.007},
{"p":1,"s":"O","b":23,"y":1.009,"e":0.007},{"p":1,"s":"P","b":23,"y":1.01,"e":0.007},{"p":1,"s":"G","b":23,"y":1.011,"e":0.007},
{"p":1,"s":"O","b":24,"y":0.999,"e":0.007},{"p":1,"s":"P","b":24,"y":1.004,"e":0.007},{"p":1,"s":"G","b":24,"y":1.013,"e":0.007},

{"p":2,"s":"O","b":0,"y":1.0,"e":0.007},{"p":2,"s":"P","b":0,"y":0.984,"e":0.007},{"p":2,"s":"G","b":0,"y":0.988,"e":0.007},
{"p":2,"s":"O","b":1,"y":0.994,"e":0.007},{"p":2,"s":"P","b":1,"y":1.003,"e":0.007},{"p":2,"s":"G","b":1,"y":1.003,"e":0.007},
{"p":2,"s":"O","b":2,"y":0.99,"e":0.007},{"p":2,"s":"P","b":2,"y":0.983,"e":0.007},{"p":2,"s":"G","b":2,"y":0.987,"e":0.007},
{"p":2,"s":"O","b":3,"y":1.003,"e":0.007},{"p":2,"s":"P","b":3,"y":0.997,"e":0.007},{"p":2,"s":"G","b":3,"y":0.992,"e":0.007},
{"p":2,"s":"O","b":4,"y":0.992,"e":0.007},{"p":2,"s":"P","b":4,"y":0.999,"e":0.007},{"p":2,"s":"G","b":4,"y":1.001,"e":0.007},
{"p":2,"s":"O","b":5,"y":1.005,"e":0.007},{"p":2,"s":"P","b":5,"y":1.005,"e":0.007},{"p":2,"s":"G","b":5,"y":1.006,"e":0.007},
{"p":2,"s":"O","b":6,"y":1.002,"e":0.007},{"p":2,"s":"P","b":6,"y":1.003,"e":0.007},{"p":2,"s":"G","b":6,"y":1.006,"e":0.007},
{"p":2,"s":"O","b":7,"y":0.994,"e":0.007},{"p":2,"s":"P","b":7,"y":1.0,"e":0.007},{"p":2,"s":"G","b":7,"y":0.995,"e":0.007},
{"p":2,"s":"O","b":8,"y":0.997,"e":0.007},{"p":2,"s":"P","b":8,"y":0.996,"e":0.007},{"p":2,"s":"G","b":8,"y":1.001,"e":0.007},
{"p":2,"s":"O","b":9,"y":1.006,"e":0.007},{"p":2,"s":"P","b":9,"y":1.005,"e":0.007},{"p":2,"s":"G","b":9,"y":1.008,"e":0.007},
{"p":2,"s":"O","b":10,"y":1.017,"e":0.007},{"p":2,"s":"P","b":10,"y":1.008,"e":0.007},{"p":2,"s":"G","b":10,"y":1.01,"e":0.007},
{"p":2,"s":"O","b":11,"y":1.012,"e":0.007},{"p":2,"s":"P","b":11,"y":1.015,"e":0.007},{"p":2,"s":"G","b":11,"y":1.01,"e":0.007},
{"p":2,"s":"O","b":12,"y":1.004,"e":0.007},{"p":2,"s":"P","b":12,"y":1.003,"e":0.007},{"p":2,"s":"G","b":12,"y":1.007,"e":0.007},
{"p":2,"s":"O","b":13,"y":1.004,"e":0.007},{"p":2,"s":"P","b":13,"y":1.006,"e":0.007},{"p":2,"s":"G","b":13,"y":1.004,"e":0.007},
{"p":2,"s":"O","b":14,"y":1.0,"e":0.007},{"p":2,"s":"P","b":14,"y":1.001,"e":0.007},{"p":2,"s":"G","b":14,"y":1.006,"e":0.007},
{"p":2,"s":"O","b":15,"y":0.996,"e":0.007},{"p":2,"s":"P","b":15,"y":0.998,"e":0.007},{"p":2,"s":"G","b":15,"y":0.999,"e":0.007},
{"p":2,"s":"O","b":16,"y":1.001,"e":0.007},{"p":2,"s":"P","b":16,"y":1.0,"e":0.007},{"p":2,"s":"G","b":16,"y":1.001,"e":0.007},
{"p":2,"s":"O","b":17,"y":1.0,"e":0.007},{"p":2,"s":"P","b":17,"y":1.002,"e":0.007},{"p":2,"s":"G","b":17,"y":0.991,"e":0.007},
{"p":2,"s":"O","b":18,"y":0.998,"e":0.007},{"p":2,"s":"P","b":18,"y":0.989,"e":0.007},{"p":2,"s":"G","b":18,"y":0.991,"e":0.007},
{"p":2,"s":"O","b":19,"y":0.996,"e":0.007},{"p":2,"s":"P","b":19,"y":1.0,"e":0.007},{"p":2,"s":"G","b":19,"y":0.992,"e":0.007},
{"p":2,"s":"O","b":20,"y":1.0,"e":0.007},{"p":2,"s":"P","b":20,"y":1.0,"e":0.007},{"p":2,"s":"G","b":20,"y":1.0,"e":0.007},
{"p":2,"s":"O","b":21,"y":0.998,"e":0.007},{"p":2,"s":"P","b":21,"y":0.993,"e":0.007},{"p":2,"s":"G","b":21,"y":0.992,"e":0.007},
{"p":2,"s":"O","b":22,"y":0.99,"e":0.007},{"p":2,"s":"P","b":22,"y":0.989,"e":0.007},{"p":2,"s":"G","b":22,"y":0.987,"e":0.007},
{"p":2,"s":"O","b":23,"y":0.998,"e":0.007},{"p":2,"s":"P","b":23,"y":1.003,"e":0.007},{"p":2,"s":"G","b":23,"y":1.0,"e":0.007},
{"p":2,"s":"O","b":24,"y":0.992,"e":0.007},{"p":2,"s":"P","b":24,"y":0.999,"e":0.007},{"p":2,"s":"G","b":24,"y":1.005,"e":0.007},

{"p":3,"s":"O","b":0,"y":1.002,"e":0.007},{"p":3,"s":"P","b":0,"y":0.996,"e":0.007},{"p":3,"s":"G","b":0,"y":0.983,"e":0.007},
{"p":3,"s":"O","b":1,"y":1.001,"e":0.007},{"p":3,"s":"P","b":1,"y":1.001,"e":0.007},{"p":3,"s":"G","b":1,"y":0.997,"e":0.007},
{"p":3,"s":"O","b":2,"y":1.0,"e":0.007},{"p":3,"s":"P","b":2,"y":1.0,"e":0.007},{"p":3,"s":"G","b":2,"y":0.999,"e":0.007},
{"p":3,"s":"O","b":3,"y":0.998,"e":0.007},{"p":3,"s":"P","b":3,"y":0.997,"e":0.007},{"p":3,"s":"G","b":3,"y":1.001,"e":0.007},
{"p":3,"s":"O","b":4,"y":1.0,"e":0.007},{"p":3,"s":"P","b":4,"y":0.992,"e":0.007},{"p":3,"s":"G","b":4,"y":0.992,"e":0.007},
{"p":3,"s":"O","b":5,"y":0.999,"e":0.007},{"p":3,"s":"P","b":5,"y":1.003,"e":0.007},{"p":3,"s":"G","b":5,"y":0.999,"e":0.007},
{"p":3,"s":"O","b":6,"y":1.0,"e":0.007},{"p":3,"s":"P","b":6,"y":1.006,"e":0.007},{"p":3,"s":"G","b":6,"y":1.005,"e":0.007},
{"p":3,"s":"O","b":7,"y":0.997,"e":0.007},{"p":3,"s":"P","b":7,"y":1.001,"e":0.007},{"p":3,"s":"G","b":7,"y":0.993,"e":0.007},
{"p":3,"s":"O","b":8,"y":0.999,"e":0.007},{"p":3,"s":"P","b":8,"y":1.002,"e":0.007},{"p":3,"s":"G","b":8,"y":1.002,"e":0.007},
{"p":3,"s":"O","b":9,"y":1.002,"e":0.007},{"p":3,"s":"P","b":9,"y":1.012,"e":0.007},{"p":3,"s":"G","b":9,"y":1.013,"e":0.007},
{"p":3,"s":"O","b":10,"y":0.999,"e":0.007},{"p":3,"s":"P","b":10,"y":0.995,"e":0.007},{"p":3,"s":"G","b":10,"y":0.997,"e":0.007},
{"p":3,"s":"O","b":11,"y":0.997,"e":0.007},{"p":3,"s":"P","b":11,"y":0.998,"e":0.007},{"p":3,"s":"G","b":11,"y":1.004,"e":0.007},
{"p":3,"s":"O","b":12,"y":1.0,"e":0.007},{"p":3,"s":"P","b":12,"y":1.005,"e":0.007},{"p":3,"s":"G","b":12,"y":1.014,"e":0.007},
{"p":3,"s":"O","b":13,"y":1.01,"e":0.007},{"p":3,"s":"P","b":13,"y":1.009,"e":0.007},{"p":3,"s":"G","b":13,"y":1.01,"e":0.007},
{"p":3,"s":"O","b":14,"y":0.998,"e":0.007},{"p":3,"s":"P","b":14,"y":1.003,"e":0.007},{"p":3,"s":"G","b":14,"y":1.002,"e":0.007},
{"p":3,"s":"O","b":15,"y":1.0,"e":0.007},{"p":3,"s":"P","b":15,"y":1.01,"e":0.007},{"p":3,"s":"G","b":15,"y":1.003,"e":0.007},
{"p":3,"s":"O","b":16,"y":0.994,"e":0.007},{"p":3,"s":"P","b":16,"y":0.998,"e":0.007},{"p":3,"s":"G","b":16,"y":0.998,"e":0.007},
{"p":3,"s":"O","b":17,"y":0.995,"e":0.007},{"p":3,"s":"P","b":17,"y":0.994,"e":0.007},{"p":3,"s":"G","b":17,"y":0.995,"e":0.007},
{"p":3,"s":"O","b":18,"y":1.0,"e":0.007},{"p":3,"s":"P","b":18,"y":1.004,"e":0.007},{"p":3,"s":"G","b":18,"y":1.017,"e":0.007},
{"p":3,"s":"O","b":19,"y":1.002,"e":0.007},{"p":3,"s":"P","b":19,"y":1.002,"e":0.007},{"p":3,"s":"G","b":19,"y":1.002,"e":0.007},
{"p":3,"s":"O","b":20,"y":0.999,"e":0.007},{"p":3,"s":"P","b":20,"y":0.996,"e":0.007},{"p":3,"s":"G","b":20,"y":1.004,"e":0.007},
{"p":3,"s":"O","b":21,"y":1.005,"e":0.007},{"p":3,"s":"P","b":21,"y":0.995,"e":0.007},{"p":3,"s":"G","b":21,"y":0.982,"e":0.007},
{"p":3,"s":"O","b":22,"y":1.003,"e":0.007},{"p":3,"s":"P","b":22,"y":0.992,"e":0.007},{"p":3,"s":"G","b":22,"y":0.987,"e":0.007},
{"p":3,"s":"O","b":23,"y":1.007,"e":0.007},{"p":3,"s":"P","b":23,"y":1.001,"e":0.007},{"p":3,"s":"G","b":23,"y":1.004,"e":0.007},
{"p":3,"s":"O","b":24,"y":0.994,"e":0.007},{"p":3,"s":"P","b":24,"y":0.99,"e":0.007},{"p":3,"s":"G","b":24,"y":0.99,"e":0.007},

{"p":4,"s":"O","b":0,"y":0.993,"e":0.007},{"p":4,"s":"P","b":0,"y":1.0,"e":0.007},{"p":4,"s":"G","b":0,"y":1.009,"e":0.007},
{"p":4,"s":"O","b":1,"y":1.004,"e":0.007},{"p":4,"s":"P","b":1,"y":1.007,"e":0.007},{"p":4,"s":"G","b":1,"y":1.011,"e":0.007},
{"p":4,"s":"O","b":2,"y":0.999,"e":0.007},{"p":4,"s":"P","b":2,"y":0.996,"e":0.007},{"p":4,"s":"G","b":2,"y":1.0,"e":0.007},
{"p":4,"s":"O","b":3,"y":0.996,"e":0.007},{"p":4,"s":"P","b":3,"y":1.002,"e":0.007},{"p":4,"s":"G","b":3,"y":1.011,"e":0.007},
{"p":4,"s":"O","b":4,"y":0.999,"e":0.007},{"p":4,"s":"P","b":4,"y":0.999,"e":0.007},{"p":4,"s":"G","b":4,"y":1.0,"e":0.007},
{"p":4,"s":"O","b":5,"y":1.0,"e":0.007},{"p":4,"s":"P","b":5,"y":1.002,"e":0.007},{"p":4,"s":"G","b":5,"y":0.995,"e":0.007},
{"p":4,"s":"O","b":6,"y":1.004,"e":0.007},{"p":4,"s":"P","b":6,"y":1.002,"e":0.007},{"p":4,"s":"G","b":6,"y":1.004,"e":0.007},
{"p":4,"s":"O","b":7,"y":1.005,"e":0.007},{"p":4,"s":"P","b":7,"y":1.005,"e":0.007},{"p":4,"s":"G","b":7,"y":0.996,"e":0.007},
{"p":4,"s":"O","b":8,"y":0.995,"e":0.007},{"p":4,"s":"P","b":8,"y":0.994,"e":0.007},{"p":4,"s":"G","b":8,"y":0.993,"e":0.007},
{"p":4,"s":"O","b":9,"y":0.997,"e":0.007},{"p":4,"s":"P","b":9,"y":0.998,"e":0.007},{"p":4,"s":"G","b":9,"y":0.998,"e":0.007},
{"p":4,"s":"O","b":10,"y":0.998,"e":0.007},{"p":4,"s":"P","b":10,"y":0.989,"e":0.007},{"p":4,"s":"G","b":10,"y":0.977,"e":0.007},
{"p":4,"s":"O","b":11,"y":0.993,"e":0.007},{"p":4,"s":"P","b":11,"y":0.981,"e":0.007},{"p":4,"s":"G","b":11,"y":0.987,"e":0.007},
{"p":4,"s":"O","b":12,"y":1.005,"e":0.007},{"p":4,"s":"P","b":12,"y":1.006,"e":0.007},{"p":4,"s":"G","b":12,"y":1.002,"e":0.007},
{"p":4,"s":"O","b":13,"y":1.005,"e":0.007},{"p":4,"s":"P","b":13,"y":1.002,"e":0.007},{"p":4,"s":"G","b":13,"y":0.99,"e":0.007},
{"p":4,"s":"O","b":14,"y":1.003,"e":0.007},{"p":4,"s":"P","b":14,"y":0.994,"e":0.007},{"p":4,"s":"G","b":14,"y":0.992,"e":0.007},
{"p":4,"s":"O","b":15,"y":1.0,"e":0.007},{"p":4,"s":"P","b":15,"y":0.997,"e":0.007},{"p":4,"s":"G","b":15,"y":0.98,"e":0.007},
{"p":4,"s":"O","b":16,"y":0.995,"e":0.007},{"p":4,"s":"P","b":16,"y":0.997,"e":0.007},{"p":4,"s":"G","b":16,"y":0.998,"e":0.007},
{"p":4,"s":"O","b":17,"y":1.005,"e":0.007},{"p":4,"s":"P","b":17,"y":0.991,"e":0.007},{"p":4,"s":"G","b":17,"y":0.995,"e":0.007},
{"p":4,"s":"O","b":18,"y":1.0,"e":0.007},{"p":4,"s":"P","b":18,"y":1.0,"e":0.007},{"p":4,"s":"G","b":18,"y":1.009,"e":0.007},
{"p":4,"s":"O","b":19,"y":1.003,"e":0.007},{"p":4,"s":"P","b":19,"y":1.007,"e":0.007},{"p":4,"s":"G","b":19,"y":1.012,"e":0.007},
{"p":4,"s":"O","b":20,"y":0.999,"e":0.007},{"p":4,"s":"P","b":20,"y":1.0,"e":0.007},{"p":4,"s":"G","b":20,"y":1.006,"e":0.007},
{"p":4,"s":"O","b":21,"y":1.003,"e":0.007},{"p":4,"s":"P","b":21,"y":1.004,"e":0.007},{"p":4,"s":"G","b":21,"y":1.0,"e":0.007},
{"p":4,"s":"O","b":22,"y":1.003,"e":0.007},{"p":4,"s":"P","b":22,"y":1.001,"e":0.007},{"p":4,"s":"G","b":22,"y":1.01,"e":0.007},
{"p":4,"s":"O","b":23,"y":1.005,"e":0.007},{"p":4,"s":"P","b":23,"y":1.012,"e":0.007},{"p":4,"s":"G","b":23,"y":1.012,"e":0.007},
{"p":4,"s":"O","b":24,"y":0.997,"e":0.007},{"p":4,"s":"P","b":24,"y":1.005,"e":0.007},{"p":4,"s":"G","b":24,"y":1.008,"e":0.007}
]
},
"concat": [
  {"width": 354, "height": 267, "data": {"name": "main"},
   "transform": [{"filter": "datum.p==1"}, {"lookup": "b", "from": {"data": {"name": "bins"}, "key": "b", "fields": ["x0","x1","xc"]}}],
   "layer": [
    {"mark": {"type": "rule", "strokeWidth": 2, "opacity": 0.6},
     "encoding": {
      "x": {"field": "x0", "type": "quantitative", "scale": {"domain": [0, 6.2832], "nice": false, "zero": false}, "axis": {"orient": "bottom", "values": [0,0.2,0.4,0.6,0.8,1,1.2,1.4,1.6,1.8,2,2.2,2.4,2.6,2.8,3,3.2,3.4,3.6,3.8,4,4.2,4.4,4.6,4.8,5,5.2,5.4,5.6,5.8,6,6.2], "labels": false, "title": null, "tickSize": {"condition": {"test": "abs(datum.value-round(datum.value))<0.001", "value": -8}, "value": -4}}},
      "x2": {"field": "x1"},
      "y": {"field": "y", "type": "quantitative", "scale": {"domain": [0.032, 0.05], "nice": false, "zero": false}, "axis": {"orient": "left", "values": [0.032,0.0324,0.0328,0.0332,0.0336,0.034,0.0344,0.0348,0.0352,0.0356,0.036,0.0364,0.0368,0.0372,0.0376,0.038,0.0384,0.0388,0.0392,0.0396,0.04,0.0404,0.0408,0.0412,0.0416,0.042,0.0424,0.0428,0.0432,0.0436,0.044,0.0444,0.0448,0.0452,0.0456,0.046,0.0464,0.0468,0.0472,0.0476,0.048,0.0484,0.0488,0.0492,0.0496,0.05], "format": "~g", "labelExpr": "abs(datum.value*500-round(datum.value*500))<0.01 ? datum.label : ''", "tickSize": {"condition": {"test": "abs(datum.value*500-round(datum.value*500))<0.01", "value": -12}, "value": -6}, "labelPadding": 13.5, "labelFontSize": 10.5, "title": "Normalised to unity", "titleFontSize": 13.5, "titleAngle": 270, "titleX": -35, "titleY": -18, "titleAlign": "right", "titleBaseline": "middle"}},
      "color": {"field": "s", "type": "nominal", "scale": {"domain": ["R","O","P","G"], "range": ["#ee4b2b","#f5a623","#5b3a8e","#2b8a1f"]}, "legend": {"orient": "none", "legendX": 176, "legendY": 5, "title": null, "labelExpr": "datum.label=='R'?'Standard CLEO Scalar':datum.label=='O'?'Alternative CLEO Scalar':datum.label=='P'?'Resonance Chiral Lagrangian Scalar':'BaBar Scalar'", "labelFontSize": 6.8, "symbolType": "M-2.5,0L2.5,0", "symbolSize": 144, "symbolStrokeWidth": 1.5, "symbolOffset": 10, "labelOffset": 25, "rowPadding": 3, "padding": 4, "strokeColor": "#000", "fillColor": "#fff", "symbolOpacity": 0.85}}
     }},
    {"mark": {"type": "errorbar", "thickness": 1.2},
     "encoding": {"x": {"field": "xc", "type": "quantitative", "axis": null}, "y": {"field": "y", "type": "quantitative", "axis": null}, "yError": {"field": "e"}, "color": {"field": "s", "type": "nominal", "legend": null}}},
    {"mark": {"type": "point", "opacity": 0},
     "encoding": {
      "x": {"field": "xc", "type": "quantitative", "axis": {"orient": "top", "values": [0,0.2,0.4,0.6,0.8,1,1.2,1.4,1.6,1.8,2,2.2,2.4,2.6,2.8,3,3.2,3.4,3.6,3.8,4,4.2,4.4,4.6,4.8,5,5.2,5.4,5.6,5.8,6,6.2], "labels": false, "title": null, "tickSize": {"condition": {"test": "abs(datum.value-round(datum.value))<0.001", "value": -8}, "value": -4}}},
      "y": {"field": "y", "type": "quantitative", "axis": {"orient": "right", "values": [0.032,0.0324,0.0328,0.0332,0.0336,0.034,0.0344,0.0348,0.0352,0.0356,0.036,0.0364,0.0368,0.0372,0.0376,0.038,0.0384,0.0388,0.0392,0.0396,0.04,0.0404,0.0408,0.0412,0.0416,0.042,0.0424,0.0428,0.0432,0.0436,0.044,0.0444,0.0448,0.0452,0.0456,0.046,0.0464,0.0468,0.0472,0.0476,0.048,0.0484,0.0488,0.0492,0.0496,0.05], "labels": false, "title": null, "tickSize": {"condition": {"test": "abs(datum.value*500-round(datum.value*500))<0.01", "value": -12}, "value": -6}}}
     }}
   ],
   "resolve": {"axis": {"x": "independent", "y": "independent"}}
  },
  {"width": 351, "height": 267, "data": {"name": "main"},
   "transform": [{"filter": "datum.p==2"}, {"lookup": "b", "from": {"data": {"name": "bins"}, "key": "b", "fields": ["x0","x1","xc"]}}],
   "layer": [
    {"mark": {"type": "rule", "strokeWidth": 2, "opacity": 0.6},
     "encoding": {
      "x": {"field": "x0", "type": "quantitative", "scale": {"domain": [0, 6.2832], "nice": false, "zero": false}, "axis": {"orient": "bottom", "values": [0,0.2,0.4,0.6,0.8,1,1.2,1.4,1.6,1.8,2,2.2,2.4,2.6,2.8,3,3.2,3.4,3.6,3.8,4,4.2,4.4,4.6,4.8,5,5.2,5.4,5.6,5.8,6,6.2], "labels": false, "title": null, "tickSize": {"condition": {"test": "abs(datum.value-round(datum.value))<0.001", "value": -8}, "value": -4}}},
      "x2": {"field": "x1"},
      "y": {"field": "y", "type": "quantitative", "scale": {"domain": [0.032, 0.05], "nice": false, "zero": false}, "axis": {"orient": "left", "values": [0.032,0.0324,0.0328,0.0332,0.0336,0.034,0.0344,0.0348,0.0352,0.0356,0.036,0.0364,0.0368,0.0372,0.0376,0.038,0.0384,0.0388,0.0392,0.0396,0.04,0.0404,0.0408,0.0412,0.0416,0.042,0.0424,0.0428,0.0432,0.0436,0.044,0.0444,0.0448,0.0452,0.0456,0.046,0.0464,0.0468,0.0472,0.0476,0.048,0.0484,0.0488,0.0492,0.0496,0.05], "format": "~g", "labelExpr": "abs(datum.value*500-round(datum.value*500))<0.01 ? datum.label : ''", "tickSize": {"condition": {"test": "abs(datum.value*500-round(datum.value*500))<0.01", "value": -12}, "value": -6}, "labelPadding": 13.5, "labelFontSize": 10.5, "title": "Normalised to unity", "titleFontSize": 13.5, "titleAngle": 270, "titleX": -35, "titleY": -18, "titleAlign": "right", "titleBaseline": "middle"}},
      "color": {"field": "s", "type": "nominal", "scale": {"domain": ["R","O","P","G"], "range": ["#ee4b2b","#f5a623","#5b3a8e","#2b8a1f"]}, "legend": {"orient": "none", "legendX": 176, "legendY": 5, "title": null, "labelExpr": "datum.label=='R'?'Standard CLEO Pseudocalar':datum.label=='O'?'Alternative CLEO Pseudocalar':datum.label=='P'?'Resonance Chiral Lagrangian Pseudocalar':'BaBar Pseudocalar'", "labelFontSize": 5.8, "symbolType": "M-2.5,0L2.5,0", "symbolSize": 144, "symbolStrokeWidth": 1.5, "symbolOffset": 10, "labelOffset": 25, "rowPadding": 3, "padding": 4, "strokeColor": "#000", "fillColor": "#fff", "symbolOpacity": 0.85}}
     }},
    {"mark": {"type": "errorbar", "thickness": 1.2},
     "encoding": {"x": {"field": "xc", "type": "quantitative", "axis": null}, "y": {"field": "y", "type": "quantitative", "axis": null}, "yError": {"field": "e"}, "color": {"field": "s", "type": "nominal", "legend": null}}},
    {"mark": {"type": "point", "opacity": 0},
     "encoding": {
      "x": {"field": "xc", "type": "quantitative", "axis": {"orient": "top", "values": [0,0.2,0.4,0.6,0.8,1,1.2,1.4,1.6,1.8,2,2.2,2.4,2.6,2.8,3,3.2,3.4,3.6,3.8,4,4.2,4.4,4.6,4.8,5,5.2,5.4,5.6,5.8,6,6.2], "labels": false, "title": null, "tickSize": {"condition": {"test": "abs(datum.value-round(datum.value))<0.001", "value": -8}, "value": -4}}},
      "y": {"field": "y", "type": "quantitative", "axis": {"orient": "right", "values": [0.032,0.0324,0.0328,0.0332,0.0336,0.034,0.0344,0.0348,0.0352,0.0356,0.036,0.0364,0.0368,0.0372,0.0376,0.038,0.0384,0.0388,0.0392,0.0396,0.04,0.0404,0.0408,0.0412,0.0416,0.042,0.0424,0.0428,0.0432,0.0436,0.044,0.0444,0.0448,0.0452,0.0456,0.046,0.0464,0.0468,0.0472,0.0476,0.048,0.0484,0.0488,0.0492,0.0496,0.05], "labels": false, "title": null, "tickSize": {"condition": {"test": "abs(datum.value*500-round(datum.value*500))<0.01", "value": -12}, "value": -6}}}
     }}
   ],
   "resolve": {"axis": {"x": "independent", "y": "independent"}}
  },
  {"width": 354, "height": 70, "data": {"name": "ratio"},
   "transform": [{"filter": "datum.p==1"}, {"lookup": "b", "from": {"data": {"name": "bins"}, "key": "b", "fields": ["x0","x1","xc"]}}],
   "layer": [
    {"mark": {"type": "rule", "strokeWidth": 2, "opacity": 0.6},
     "encoding": {
      "x": {"field": "x0", "type": "quantitative", "scale": {"domain": [0, 6.2832], "nice": false, "zero": false}, "axis": {"orient": "bottom", "values": [0,0.2,0.4,0.6,0.8,1,1.2,1.4,1.6,1.8,2,2.2,2.4,2.6,2.8,3,3.2,3.4,3.6,3.8,4,4.2,4.4,4.6,4.8,5,5.2,5.4,5.6,5.8,6,6.2], "format": "~g", "labelExpr": "abs(datum.value-round(datum.value))<0.001 ? datum.label : ''", "tickSize": {"condition": {"test": "abs(datum.value-round(datum.value))<0.001", "value": -8}, "value": -4}, "labelPadding": 9.5, "labelFontSize": 10.5, "title": "ϕ*(ρ⁰, ρ∓)", "titleFont": "DejaVu Sans", "titleFontStyle": "italic", "titleFontSize": 12.5, "titleX": 354, "titleY": 25, "titleAlign": "right", "titleBaseline": "middle"}},
      "x2": {"field": "x1"},
      "y": {"field": "y", "type": "quantitative", "scale": {"domain": [0.95, 1.05], "nice": false, "zero": false}, "axis": {"orient": "left", "values": [0.96,0.98,1,1.02,1.04], "format": "~g", "grid": true, "gridDash": [1.5,2], "gridColor": "#222", "gridWidth": 1, "tickSize": -5, "labelPadding": 9, "labelFontSize": 10, "title": "Standard/Variation", "titleFontSize": 11, "titleAngle": 270, "titleX": -28, "titleY": -1, "titleAlign": "right", "titleBaseline": "middle"}},
      "color": {"field": "s", "type": "nominal", "scale": {"domain": ["R","O","P","G"], "range": ["#ee4b2b","#f5a623","#5b3a8e","#2b8a1f"]}, "legend": null}
     }},
    {"mark": {"type": "errorbar", "thickness": 1.2},
     "encoding": {"x": {"field": "xc", "type": "quantitative", "axis": null}, "y": {"field": "y", "type": "quantitative", "axis": null}, "yError": {"field": "e"}, "color": {"field": "s", "type": "nominal", "legend": null}}}
   ],
   "resolve": {"axis": {"x": "independent", "y": "independent"}}
  },
  {"width": 351, "height": 70, "data": {"name": "ratio"},
   "transform": [{"filter": "datum.p==2"}, {"lookup": "b", "from": {"data": {"name": "bins"}, "key": "b", "fields": ["x0","x1","xc"]}}],
   "layer": [
    {"mark": {"type": "rule", "strokeWidth": 2, "opacity": 0.6},
     "encoding": {
      "x": {"field": "x0", "type": "quantitative", "scale": {"domain": [0, 6.2832], "nice": false, "zero": false}, "axis": {"orient": "bottom", "values": [0,0.2,0.4,0.6,0.8,1,1.2,1.4,1.6,1.8,2,2.2,2.4,2.6,2.8,3,3.2,3.4,3.6,3.8,4,4.2,4.4,4.6,4.8,5,5.2,5.4,5.6,5.8,6,6.2], "format": "~g", "labelExpr": "abs(datum.value-round(datum.value))<0.001 ? datum.label : ''", "tickSize": {"condition": {"test": "abs(datum.value-round(datum.value))<0.001", "value": -8}, "value": -4}, "labelPadding": 9.5, "labelFontSize": 10.5, "title": "ϕ*(ρ⁰, ρ∓)", "titleFont": "DejaVu Sans", "titleFontStyle": "italic", "titleFontSize": 12.5, "titleX": 351, "titleY": 25, "titleAlign": "right", "titleBaseline": "middle"}},
      "x2": {"field": "x1"},
      "y": {"field": "y", "type": "quantitative", "scale": {"domain": [0.95, 1.05], "nice": false, "zero": false}, "axis": {"orient": "left", "values": [0.96,0.98,1,1.02,1.04], "format": "~g", "grid": true, "gridDash": [1.5,2], "gridColor": "#222", "gridWidth": 1, "tickSize": -5, "labelPadding": 9, "labelFontSize": 10, "title": "Standard/Variation", "titleFontSize": 11, "titleAngle": 270, "titleX": -27, "titleY": -1, "titleAlign": "right", "titleBaseline": "middle"}},
      "color": {"field": "s", "type": "nominal", "scale": {"domain": ["R","O","P","G"], "range": ["#ee4b2b","#f5a623","#5b3a8e","#2b8a1f"]}, "legend": null}
     }},
    {"mark": {"type": "errorbar", "thickness": 1.2},
     "encoding": {"x": {"field": "xc", "type": "quantitative", "axis": null}, "y": {"field": "y", "type": "quantitative", "axis": null}, "yError": {"field": "e"}, "color": {"field": "s", "type": "nominal", "legend": null}}}
   ],
   "resolve": {"axis": {"x": "independent", "y": "independent"}}
  },
  {"width": 354, "height": 54, "data": {"values": []}, "mark": {"type": "point", "opacity": 0}, "view": {"stroke": null}},
  {"width": 351, "height": 54, "data": {"values": []}, "mark": {"type": "point", "opacity": 0}, "view": {"stroke": null}},
  {"width": 354, "height": 267, "data": {"name": "main"},
   "transform": [{"filter": "datum.p==3"}, {"lookup": "b", "from": {"data": {"name": "bins"}, "key": "b", "fields": ["x0","x1","xc"]}}],
   "layer": [
    {"mark": {"type": "rule", "strokeWidth": 2, "opacity": 0.6},
     "encoding": {
      "x": {"field": "x0", "type": "quantitative", "scale": {"domain": [0, 6.2832], "nice": false, "zero": false}, "axis": {"orient": "bottom", "values": [0,0.2,0.4,0.6,0.8,1,1.2,1.4,1.6,1.8,2,2.2,2.4,2.6,2.8,3,3.2,3.4,3.6,3.8,4,4.2,4.4,4.6,4.8,5,5.2,5.4,5.6,5.8,6,6.2], "labels": false, "title": null, "tickSize": {"condition": {"test": "abs(datum.value-round(datum.value))<0.001", "value": -8}, "value": -4}}},
      "x2": {"field": "x1"},
      "y": {"field": "y", "type": "quantitative", "scale": {"domain": [0.032, 0.05], "nice": false, "zero": false}, "axis": {"orient": "left", "values": [0.032,0.0324,0.0328,0.0332,0.0336,0.034,0.0344,0.0348,0.0352,0.0356,0.036,0.0364,0.0368,0.0372,0.0376,0.038,0.0384,0.0388,0.0392,0.0396,0.04,0.0404,0.0408,0.0412,0.0416,0.042,0.0424,0.0428,0.0432,0.0436,0.044,0.0444,0.0448,0.0452,0.0456,0.046,0.0464,0.0468,0.0472,0.0476,0.048,0.0484,0.0488,0.0492,0.0496,0.05], "format": "~g", "labelExpr": "abs(datum.value*500-round(datum.value*500))<0.01 ? datum.label : ''", "tickSize": {"condition": {"test": "abs(datum.value*500-round(datum.value*500))<0.01", "value": -12}, "value": -6}, "labelPadding": 13.5, "labelFontSize": 10.5, "title": "Normalised to unity", "titleFontSize": 13.5, "titleAngle": 270, "titleX": -35, "titleY": -18, "titleAlign": "right", "titleBaseline": "middle"}},
      "color": {"field": "s", "type": "nominal", "scale": {"domain": ["R","O","P","G"], "range": ["#ee4b2b","#f5a623","#5b3a8e","#2b8a1f"]}, "legend": {"orient": "none", "legendX": 177, "legendY": 6, "title": null, "labelExpr": "datum.label=='R'?'Standard CLEO Scalar':datum.label=='O'?'Alternative CLEO Scalar':datum.label=='P'?'Resonance Chiral Lagrangian Scalar':'BaBar Scalar'", "labelFontSize": 6.8, "symbolType": "M-2.5,0L2.5,0", "symbolSize": 144, "symbolStrokeWidth": 1.5, "symbolOffset": 10, "labelOffset": 25, "rowPadding": 3, "padding": 4, "strokeColor": "#000", "fillColor": "#fff", "symbolOpacity": 0.85}}
     }},
    {"mark": {"type": "errorbar", "thickness": 1.2},
     "encoding": {"x": {"field": "xc", "type": "quantitative", "axis": null}, "y": {"field": "y", "type": "quantitative", "axis": null}, "yError": {"field": "e"}, "color": {"field": "s", "type": "nominal", "legend": null}}},
    {"mark": {"type": "point", "opacity": 0},
     "encoding": {
      "x": {"field": "xc", "type": "quantitative", "axis": {"orient": "top", "values": [0,0.2,0.4,0.6,0.8,1,1.2,1.4,1.6,1.8,2,2.2,2.4,2.6,2.8,3,3.2,3.4,3.6,3.8,4,4.2,4.4,4.6,4.8,5,5.2,5.4,5.6,5.8,6,6.2], "labels": false, "title": null, "tickSize": {"condition": {"test": "abs(datum.value-round(datum.value))<0.001", "value": -8}, "value": -4}}},
      "y": {"field": "y", "type": "quantitative", "axis": {"orient": "right", "values": [0.032,0.0324,0.0328,0.0332,0.0336,0.034,0.0344,0.0348,0.0352,0.0356,0.036,0.0364,0.0368,0.0372,0.0376,0.038,0.0384,0.0388,0.0392,0.0396,0.04,0.0404,0.0408,0.0412,0.0416,0.042,0.0424,0.0428,0.0432,0.0436,0.044,0.0444,0.0448,0.0452,0.0456,0.046,0.0464,0.0468,0.0472,0.0476,0.048,0.0484,0.0488,0.0492,0.0496,0.05], "labels": false, "title": null, "tickSize": {"condition": {"test": "abs(datum.value*500-round(datum.value*500))<0.01", "value": -12}, "value": -6}}}
     }}
   ],
   "resolve": {"axis": {"x": "independent", "y": "independent"}}
  },
  {"width": 351, "height": 267, "data": {"name": "main"},
   "transform": [{"filter": "datum.p==4"}, {"lookup": "b", "from": {"data": {"name": "bins"}, "key": "b", "fields": ["x0","x1","xc"]}}],
   "layer": [
    {"mark": {"type": "rule", "strokeWidth": 2, "opacity": 0.6},
     "encoding": {
      "x": {"field": "x0", "type": "quantitative", "scale": {"domain": [0, 6.2832], "nice": false, "zero": false}, "axis": {"orient": "bottom", "values": [0,0.2,0.4,0.6,0.8,1,1.2,1.4,1.6,1.8,2,2.2,2.4,2.6,2.8,3,3.2,3.4,3.6,3.8,4,4.2,4.4,4.6,4.8,5,5.2,5.4,5.6,5.8,6,6.2], "labels": false, "title": null, "tickSize": {"condition": {"test": "abs(datum.value-round(datum.value))<0.001", "value": -8}, "value": -4}}},
      "x2": {"field": "x1"},
      "y": {"field": "y", "type": "quantitative", "scale": {"domain": [0.032, 0.05], "nice": false, "zero": false}, "axis": {"orient": "left", "values": [0.032,0.0324,0.0328,0.0332,0.0336,0.034,0.0344,0.0348,0.0352,0.0356,0.036,0.0364,0.0368,0.0372,0.0376,0.038,0.0384,0.0388,0.0392,0.0396,0.04,0.0404,0.0408,0.0412,0.0416,0.042,0.0424,0.0428,0.0432,0.0436,0.044,0.0444,0.0448,0.0452,0.0456,0.046,0.0464,0.0468,0.0472,0.0476,0.048,0.0484,0.0488,0.0492,0.0496,0.05], "format": "~g", "labelExpr": "abs(datum.value*500-round(datum.value*500))<0.01 ? datum.label : ''", "tickSize": {"condition": {"test": "abs(datum.value*500-round(datum.value*500))<0.01", "value": -12}, "value": -6}, "labelPadding": 13.5, "labelFontSize": 10.5, "title": "Normalised to unity", "titleFontSize": 13.5, "titleAngle": 270, "titleX": -35, "titleY": -18, "titleAlign": "right", "titleBaseline": "middle"}},
      "color": {"field": "s", "type": "nominal", "scale": {"domain": ["R","O","P","G"], "range": ["#ee4b2b","#f5a623","#5b3a8e","#2b8a1f"]}, "legend": {"orient": "none", "legendX": 176, "legendY": 5, "title": null, "labelExpr": "datum.label=='R'?'Standard CLEO Pseudocalar':datum.label=='O'?'Alternative CLEO Pseudocalar':datum.label=='P'?'Resonance Chiral Lagrangian Pseudocalar':'BaBar Pseudocalar'", "labelFontSize": 5.8, "symbolType": "M-2.5,0L2.5,0", "symbolSize": 144, "symbolStrokeWidth": 1.5, "symbolOffset": 10, "labelOffset": 25, "rowPadding": 3, "padding": 4, "strokeColor": "#000", "fillColor": "#fff", "symbolOpacity": 0.85}}
     }},
    {"mark": {"type": "errorbar", "thickness": 1.2},
     "encoding": {"x": {"field": "xc", "type": "quantitative", "axis": null}, "y": {"field": "y", "type": "quantitative", "axis": null}, "yError": {"field": "e"}, "color": {"field": "s", "type": "nominal", "legend": null}}},
    {"mark": {"type": "point", "opacity": 0},
     "encoding": {
      "x": {"field": "xc", "type": "quantitative", "axis": {"orient": "top", "values": [0,0.2,0.4,0.6,0.8,1,1.2,1.4,1.6,1.8,2,2.2,2.4,2.6,2.8,3,3.2,3.4,3.6,3.8,4,4.2,4.4,4.6,4.8,5,5.2,5.4,5.6,5.8,6,6.2], "labels": false, "title": null, "tickSize": {"condition": {"test": "abs(datum.value-round(datum.value))<0.001", "value": -8}, "value": -4}}},
      "y": {"field": "y", "type": "quantitative", "axis": {"orient": "right", "values": [0.032,0.0324,0.0328,0.0332,0.0336,0.034,0.0344,0.0348,0.0352,0.0356,0.036,0.0364,0.0368,0.0372,0.0376,0.038,0.0384,0.0388,0.0392,0.0396,0.04,0.0404,0.0408,0.0412,0.0416,0.042,0.0424,0.0428,0.0432,0.0436,0.044,0.0444,0.0448,0.0452,0.0456,0.046,0.0464,0.0468,0.0472,0.0476,0.048,0.0484,0.0488,0.0492,0.0496,0.05], "labels": false, "title": null, "tickSize": {"condition": {"test": "abs(datum.value*500-round(datum.value*500))<0.01", "value": -12}, "value": -6}}}
     }}
   ],
   "resolve": {"axis": {"x": "independent", "y": "independent"}}
  },
  {"width": 354, "height": 70, "data": {"name": "ratio"},
   "transform": [{"filter": "datum.p==3"}, {"lookup": "b", "from": {"data": {"name": "bins"}, "key": "b", "fields": ["x0","x1","xc"]}}],
   "layer": [
    {"mark": {"type": "rule", "strokeWidth": 2, "opacity": 0.6},
     "encoding": {
      "x": {"field": "x0", "type": "quantitative", "scale": {"domain": [0, 6.2832], "nice": false, "zero": false}, "axis": {"orient": "bottom", "values": [0,0.2,0.4,0.6,0.8,1,1.2,1.4,1.6,1.8,2,2.2,2.4,2.6,2.8,3,3.2,3.4,3.6,3.8,4,4.2,4.4,4.6,4.8,5,5.2,5.4,5.6,5.8,6,6.2], "format": "~g", "labelExpr": "abs(datum.value-round(datum.value))<0.001 ? datum.label : ''", "tickSize": {"condition": {"test": "abs(datum.value-round(datum.value))<0.001", "value": -8}, "value": -4}, "labelPadding": 9.5, "labelFontSize": 10.5, "title": "ϕ*(a₁±, ρ∓)", "titleFont": "DejaVu Sans", "titleFontStyle": "italic", "titleFontSize": 12.5, "titleX": 354, "titleY": 25, "titleAlign": "right", "titleBaseline": "middle"}},
      "x2": {"field": "x1"},
      "y": {"field": "y", "type": "quantitative", "scale": {"domain": [0.95, 1.05], "nice": false, "zero": false}, "axis": {"orient": "left", "values": [0.96,0.98,1,1.02,1.04], "format": "~g", "grid": true, "gridDash": [1.5,2], "gridColor": "#222", "gridWidth": 1, "tickSize": -5, "labelPadding": 9, "labelFontSize": 10, "title": "Standard/Variation", "titleFontSize": 11, "titleAngle": 270, "titleX": -28, "titleY": -1, "titleAlign": "right", "titleBaseline": "middle"}},
      "color": {"field": "s", "type": "nominal", "scale": {"domain": ["R","O","P","G"], "range": ["#ee4b2b","#f5a623","#5b3a8e","#2b8a1f"]}, "legend": null}
     }},
    {"mark": {"type": "errorbar", "thickness": 1.2},
     "encoding": {"x": {"field": "xc", "type": "quantitative", "axis": null}, "y": {"field": "y", "type": "quantitative", "axis": null}, "yError": {"field": "e"}, "color": {"field": "s", "type": "nominal", "legend": null}}}
   ],
   "resolve": {"axis": {"x": "independent", "y": "independent"}}
  },
  {"width": 351, "height": 70, "data": {"name": "ratio"},
   "transform": [{"filter": "datum.p==4"}, {"lookup": "b", "from": {"data": {"name": "bins"}, "key": "b", "fields": ["x0","x1","xc"]}}],
   "layer": [
    {"mark": {"type": "rule", "strokeWidth": 2, "opacity": 0.6},
     "encoding": {
      "x": {"field": "x0", "type": "quantitative", "scale": {"domain": [0, 6.2832], "nice": false, "zero": false}, "axis": {"orient": "bottom", "values": [0,0.2,0.4,0.6,0.8,1,1.2,1.4,1.6,1.8,2,2.2,2.4,2.6,2.8,3,3.2,3.4,3.6,3.8,4,4.2,4.4,4.6,4.8,5,5.2,5.4,5.6,5.8,6,6.2], "format": "~g", "labelExpr": "abs(datum.value-round(datum.value))<0.001 ? datum.label : ''", "tickSize": {"condition": {"test": "abs(datum.value-round(datum.value))<0.001", "value": -8}, "value": -4}, "labelPadding": 9.5, "labelFontSize": 10.5, "title": "ϕ*(a₁±, ρ∓)", "titleFont": "DejaVu Sans", "titleFontStyle": "italic", "titleFontSize": 12.5, "titleX": 351, "titleY": 25, "titleAlign": "right", "titleBaseline": "middle"}},
      "x2": {"field": "x1"},
      "y": {"field": "y", "type": "quantitative", "scale": {"domain": [0.95, 1.05], "nice": false, "zero": false}, "axis": {"orient": "left", "values": [0.96,0.98,1,1.02,1.04], "format": "~g", "grid": true, "gridDash": [1.5,2], "gridColor": "#222", "gridWidth": 1, "tickSize": -5, "labelPadding": 9, "labelFontSize": 10, "title": "Standard/Variation", "titleFontSize": 11, "titleAngle": 270, "titleX": -27, "titleY": -1, "titleAlign": "right", "titleBaseline": "middle"}},
      "color": {"field": "s", "type": "nominal", "scale": {"domain": ["R","O","P","G"], "range": ["#ee4b2b","#f5a623","#5b3a8e","#2b8a1f"]}, "legend": null}
     }},
    {"mark": {"type": "errorbar", "thickness": 1.2},
     "encoding": {"x": {"field": "xc", "type": "quantitative", "axis": null}, "y": {"field": "y", "type": "quantitative", "axis": null}, "yError": {"field": "e"}, "color": {"field": "s", "type": "nominal", "legend": null}}}
   ],
   "resolve": {"axis": {"x": "independent", "y": "independent"}}
  }
]
}
